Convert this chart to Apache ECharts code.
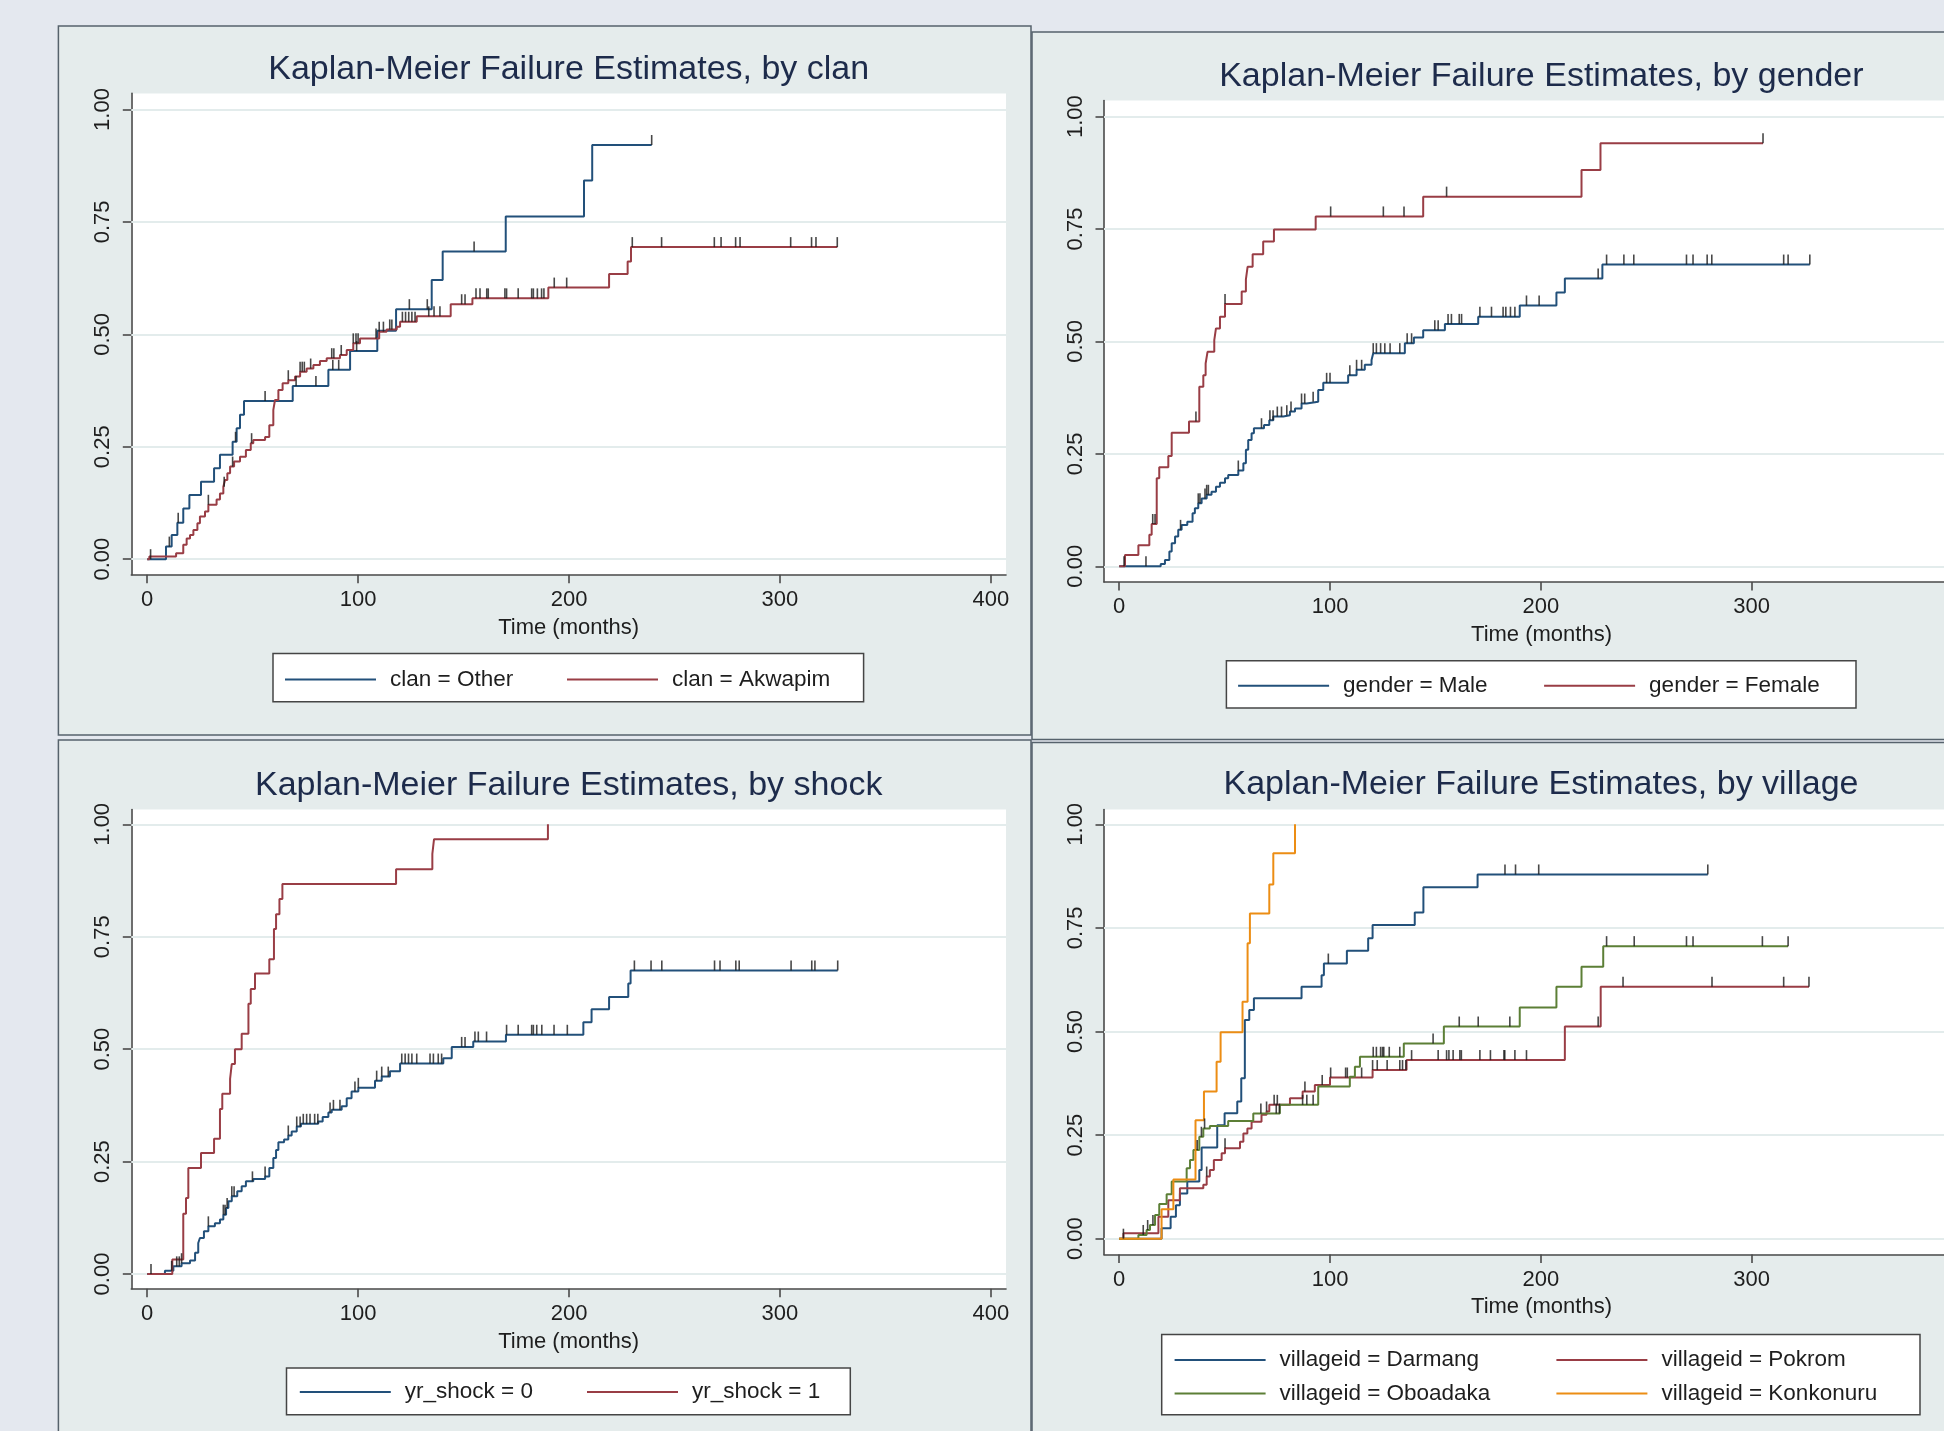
<!DOCTYPE html>
<html>
<head>
<meta charset="utf-8">
<title>Kaplan-Meier Failure Estimates</title>
<script src="https://cdn.jsdelivr.net/npm/echarts@6/dist/echarts.min.js"></script>
<style>
  html, body { margin: 0; padding: 0; background: #e4e8ef; }
  #chart { width: 1944px; height: 1431px; }
</style>
</head>
<body>
<div id="chart"></div>
<script>
// step points are [time in months, failure probability]; censor arrays are times only
const xTicks = [0, 100, 200, 300, 400];
const yTicks = [0, 0.25, 0.5, 0.75, 1];

// --- by clan
const clanOther = [[0,0],[8.9,0.028],[11.6,0.054],[14.3,0.081],[17.1,0.113],[20,0.143],[25.5,0.172],[31.7,0.202],[34.5,0.232],[40.5,0.261],[42.4,0.291],[44,0.321],[45.9,0.352],[69,0.385],[85.9,0.421],[96.2,0.463],[109.1,0.508],[118,0.556],[134.9,0.621],[140.1,0.684],[170,0.762],[207.1,0.842],[211,0.921],[239.2,0.921]];
const clanOtherCensor = [1.6, 10.5, 14.7, 41.9, 55.9, 70.6, 80, 88, 90.8, 99.3, 124.3, 132.8, 155, 239.2];
const clanAkwapim = [[0,0],[1,0.006],[13.7,0.013],[17.1,0.032],[18.7,0.046],[20.3,0.054],[21.9,0.065],[23.8,0.08],[25,0.095],[27.4,0.106],[29,0.121],[32.9,0.133],[34.5,0.146],[36.1,0.161],[36.9,0.176],[38,0.191],[39.3,0.206],[41.2,0.217],[44,0.228],[46.8,0.243],[49.1,0.258],[50.3,0.265],[55.9,0.272],[57.9,0.298],[59.8,0.332],[60.6,0.354],[62.2,0.376],[64.2,0.391],[66.9,0.398],[70.1,0.406],[72.5,0.417],[75.6,0.424],[78.8,0.432],[81.9,0.441],[85.1,0.447],[91.4,0.454],[94.6,0.465],[97.7,0.48],[100.9,0.491],[110,0.506],[113.5,0.511],[118.3,0.517],[119.9,0.528],[127.8,0.54],[143.9,0.567],[154.2,0.58],[190.2,0.604],[219,0.634],[227.8,0.662],[229.4,0.694],[327.2,0.694]];
const clanAkwapimCensor = [29, 36.5, 40.5, 49.5, 66.9, 72.5, 73.5, 74.5, 77.5, 87.5, 88.5, 92, 97.7, 99, 100, 108.5, 110, 112, 115, 116, 121, 122.5, 124, 125.5, 127, 133.5, 136, 138.8, 149.1, 150.7, 155.9, 157.8, 161, 161.7, 169.6, 170.4, 175.9, 182.3, 183.1, 185, 187, 188.1, 193, 198.9, 230, 243.9, 268.9, 272.1, 279, 281.1, 305.1, 315, 317.1, 327.2];

// --- by gender
const genderMale = [[0,0],[19.7,0.005],[21.7,0.014],[23.8,0.033],[24.9,0.051],[26.5,0.066],[28,0.081],[29.6,0.092],[32.3,0.099],[34.8,0.118],[35.9,0.129],[37.5,0.14],[39.1,0.151],[41.5,0.159],[43.8,0.166],[45.9,0.177],[47.8,0.186],[50.2,0.196],[51.7,0.203],[56.5,0.213],[58.9,0.229],[60.1,0.259],[61.2,0.281],[62.8,0.296],[63.9,0.307],[68.7,0.314],[71.2,0.325],[73.1,0.333],[77.8,0.336],[81,0.344],[83.4,0.351],[86.5,0.362],[88.9,0.366],[94.4,0.392],[96.8,0.408],[108.6,0.425],[112.6,0.437],[116.5,0.448],[119.7,0.459],[120.5,0.474],[135.5,0.496],[139.8,0.509],[144.2,0.525],[154.5,0.539],[170.3,0.555],[190,0.58],[207.4,0.609],[211.4,0.64],[229.2,0.671],[327.6,0.671]];
const genderMaleCensor = [12.7, 29.1, 37.5, 38.3, 40.7, 41.5, 42.3, 56.5, 67.5, 71.5, 73, 75, 77, 79.5, 81.5, 86.5, 88, 92, 98.4, 100, 109.4, 112.6, 115, 120.5, 122, 124, 126, 128.5, 133.1, 136.6, 138.7, 149.7, 151.3, 156, 157.6, 161.3, 162.4, 171.1, 176.6, 182.1, 183.4, 185.6, 187.7, 193.2, 199.2, 227.2, 231.2, 239.4, 244.1, 269.1, 272.2, 278.9, 281.1, 315.2, 317.3, 327.6];
const genderFemale = [[0,0],[2.75,0.025],[9.1,0.047],[14.3,0.07],[15.4,0.094],[17.8,0.196],[19,0.22],[23.3,0.245],[24.9,0.297],[33.1,0.322],[38,0.399],[39.9,0.425],[41,0.451],[41.9,0.477],[45.1,0.503],[45.9,0.529],[47.8,0.555],[50.2,0.583],[58.1,0.611],[60.1,0.638],[60.9,0.666],[63.3,0.694],[68.3,0.722],[73.4,0.749],[93.2,0.778],[144.2,0.822],[219.3,0.881],[228.3,0.941],[305.4,0.941]];
const genderFemaleCensor = [2.3, 15.9, 17, 36.4, 50.2, 100.3, 125.3, 135.1, 155.3, 305.4];

// --- by shock
const shock0 = [[0,0],[8.4,0.007],[12.4,0.017],[16.3,0.024],[20.3,0.03],[22.7,0.047],[24.2,0.069],[25,0.08],[26.9,0.095],[29,0.106],[32.1,0.113],[34.5,0.121],[36.1,0.132],[37.4,0.147],[38.5,0.162],[40.1,0.173],[42.7,0.184],[44.8,0.195],[46.8,0.206],[50.3,0.211],[55.9,0.217],[57.9,0.236],[59.8,0.258],[61.1,0.276],[62.2,0.293],[64.9,0.299],[66.9,0.308],[68.5,0.317],[70.9,0.328],[72.9,0.334],[81.1,0.339],[83.2,0.349],[85.9,0.359],[87.5,0.365],[92.2,0.373],[94.6,0.391],[96.9,0.406],[100.1,0.414],[108,0.43],[111.2,0.439],[115.1,0.451],[119.9,0.468],[140.4,0.48],[144.4,0.505],[154.6,0.517],[170.1,0.532],[206.8,0.56],[210.7,0.589],[219,0.616],[228.1,0.646],[229.2,0.675],[327.4,0.675]];
const shock0Censor = [1.8, 11.6, 14, 15.2, 16.3, 29, 36.1, 36.9, 37.9, 40.1, 41.2, 49.9, 55.9, 66.9, 70.9, 72.5, 74, 75.6, 77.2, 79.4, 80.9, 86.7, 88.3, 91.4, 98.5, 100.1, 108.8, 111.2, 114.3, 120.7, 122.3, 123.9, 125.5, 127.8, 134.1, 135.7, 138, 139.6, 149.1, 150.7, 155.4, 157, 160.9, 170.4, 175.9, 182.3, 183.1, 184.7, 187.1, 192.9, 199.2, 231, 238.9, 244, 269, 271.6, 279.1, 280.7, 305.3, 315.1, 316.6, 327.4];
const shock1 = [[0,0],[11.9,0.032],[17.1,0.134],[18.4,0.169],[19.5,0.236],[25.5,0.269],[31.7,0.301],[34.5,0.367],[35.6,0.401],[39.3,0.434],[40.1,0.467],[41.6,0.5],[44.8,0.534],[48,0.601],[49.1,0.634],[51.1,0.668],[57.9,0.7],[60.1,0.767],[61.1,0.8],[62.7,0.834],[64.1,0.867],[118,0.9],[135.2,0.934],[136,0.967],[190,1]];
const shock1Censor = [];

// --- by village
const villDarmang = [[0,0],[20.1,0.025],[24.4,0.053],[26.9,0.081],[28.8,0.109],[32.3,0.138],[38,0.166],[39.1,0.22],[46.5,0.274],[50,0.303],[56,0.331],[57.9,0.387],[59.6,0.528],[61.7,0.552],[63.9,0.58],[86.5,0.608],[96,0.636],[97.1,0.664],[108,0.695],[118.1,0.725],[120.2,0.757],[140.2,0.787],[144.3,0.848],[170,0.879],[279.2,0.879]];
const villDarmangCensor = [2, 99.2, 183, 188, 199, 279.2];
const villPokrom = [[0,0],[2,0.013],[18.6,0.053],[23.3,0.093],[28.8,0.122],[39.9,0.13],[41.5,0.15],[43,0.166],[44.9,0.19],[48.6,0.206],[50.2,0.218],[57.3,0.234],[58.9,0.254],[60.8,0.266],[62.8,0.282],[67.5,0.299],[69.9,0.307],[71.2,0.323],[81,0.339],[87,0.355],[92.8,0.371],[100,0.389],[120.2,0.407],[136.3,0.431],[211.4,0.512],[228.4,0.608],[327.2,0.608]];
const villPokromCensor = [41.5, 50.2, 69.9, 73.5, 75, 88.1, 96.3, 100.3, 107.4, 108.2, 115, 120.2, 122.4, 127.1, 133.1, 134.4, 136, 138.7, 151.3, 155.3, 156.4, 158.4, 161.6, 162.3, 171.1, 176.1, 182.5, 182.9, 187.7, 193.2, 227.2, 239, 281.2, 315.2, 327.2];
const villOboadaka = [[0,0],[9.1,0.009],[13,0.021],[14.6,0.033],[17,0.057],[19,0.084],[22.5,0.107],[24.9,0.138],[32,0.17],[33.6,0.19],[35.2,0.214],[38,0.246],[39.9,0.266],[43,0.272],[51.7,0.284],[63.6,0.302],[76.2,0.323],[94.4,0.367],[109.4,0.391],[111.8,0.415],[114.2,0.439],[135,0.471],[154,0.512],[190,0.558],[207.4,0.608],[219.3,0.656],[229.6,0.706],[317.3,0.706]];
const villOboadakaCensor = [11.4, 13.5, 16, 37, 39, 40.5, 67.2, 74.5, 76, 87, 89, 92, 120.5, 122, 124, 124.9, 125.5, 128.1, 133.1, 148.9, 161.3, 170.3, 185.3, 231.2, 244.3, 269.1, 272.2, 305.1, 317.3];
const villKonkonuru = [[0,0],[20.1,0.071],[25.7,0.143],[36.2,0.286],[40.2,0.355],[46.2,0.427],[48.1,0.498],[58.5,0.572],[60.9,0.713],[62,0.785],[71.2,0.855],[73.1,0.93],[83.4,1]];
const villKonkonuruCensor = [];

const NAVY = '#22507a', MAROON = '#993d45', GREEN = '#5c7f36', ORANGE = '#ec8d14';
const FONT = "'Liberation Sans', Arial, Helvetica, sans-serif";
const TEXT = '#1e1e1e', TITLE = '#1d2b4b', AXIS = '#4a4a4a', GRIDC = '#e3ecec', CENSOR = '#1a1a1a';

const panels = [
  { title: 'Kaplan-Meier Failure Estimates, by clan', curves: [
    { name: 'clan = Other', steps: clanOther, censor: clanOtherCensor, color: NAVY },
    { name: 'clan = Akwapim', steps: clanAkwapim, censor: clanAkwapimCensor, color: MAROON }] },
  { title: 'Kaplan-Meier Failure Estimates, by gender', curves: [
    { name: 'gender = Male', steps: genderMale, censor: genderMaleCensor, color: NAVY },
    { name: 'gender = Female', steps: genderFemale, censor: genderFemaleCensor, color: MAROON }] },
  { title: 'Kaplan-Meier Failure Estimates, by shock', curves: [
    { name: 'yr_shock = 0', steps: shock0, censor: shock0Censor, color: NAVY },
    { name: 'yr_shock = 1', steps: shock1, censor: shock1Censor, color: MAROON }] },
  { title: 'Kaplan-Meier Failure Estimates, by village', curves: [
    { name: 'villageid = Darmang', steps: villDarmang, censor: villDarmangCensor, color: NAVY },
    { name: 'villageid = Pokrom', steps: villPokrom, censor: villPokromCensor, color: MAROON },
    { name: 'villageid = Oboadaka', steps: villOboadaka, censor: villOboadakaCensor, color: GREEN },
    { name: 'villageid = Konkonuru', steps: villKonkonuru, censor: villKonkonuruCensor, color: ORANGE }] }
];

// page geometry of each panel (pixels); the right-hand plots run off the page edge,
// so their grids stop at the canvas edge and the axis title is nudged to the full-plot centre
const layout = [
  { frame: [58.4, 26, 972.6, 709], grid: [131.3, 93.4, 874.7, 481.4], x: [-7.54, 407.2], y: [-0.0347, 1.0358],
    nameShift: 0, titleAt: [568.7, 69.4], box: [273, 653.6, 590.6, 48.1], items: [[285, 679], [567, 679]] },
  { frame: [1032, 32, 950, 707.5], grid: [1104, 100.5, 840, 481.4], x: [-7.21, 391.25], y: [-0.0347, 1.0358],
    nameShift: 35, titleAt: [1541.4, 76.9], box: [1226.4, 660.7, 629.6, 47.3], items: [[1238.1, 685.2], [1544.1, 685.2]] },
  { frame: [58.4, 740, 972.6, 720], grid: [131.3, 809.6, 874.7, 479.2], x: [-7.54, 407.2], y: [-0.0329, 1.0327],
    nameShift: 0, titleAt: [568.7, 785.9], box: [286.5, 1368, 563.8, 46.8], items: [[299.8, 1391.6], [587, 1391.6]] },
  { frame: [1032, 742.5, 950, 720], grid: [1104, 809.6, 840, 444.8], x: [-7.21, 391.25], y: [-0.0379, 1.0355],
    nameShift: 35, titleAt: [1541, 784.8], box: [1161.7, 1334.4, 758.3, 80.4],
    items: [[1174.6, 1359.4], [1556.4, 1359.4], [1174.6, 1393], [1556.4, 1393]] }
];

function valueAt(steps, t) {
  let v = steps[0][1];
  for (let i = 0; i < steps.length; i++) {
    if (steps[i][0] <= t) v = steps[i][1]; else break;
  }
  return v;
}

const series = [];
const legends = [];
panels.forEach((p, i) => {
  // horizontal grid lines under the curves
  series.push({
    type: 'line', xAxisIndex: i, yAxisIndex: i, data: [[0, 0]], symbol: 'none',
    lineStyle: { opacity: 0 }, silent: true, z: 1,
    markLine: {
      z: 1, silent: true, symbol: ['none', 'none'], label: { show: false },
      lineStyle: { color: GRIDC, width: 2, type: 'solid' },
      data: yTicks.map(v => ({ yAxis: v }))
    }
  });
  p.curves.forEach((c, k) => {
    series.push({
      name: c.name, type: 'line', step: 'end', xAxisIndex: i, yAxisIndex: i,
      data: c.steps, symbol: 'none', z: 3,
      lineStyle: { color: c.color, width: 2 }, itemStyle: { color: c.color }
    });
    series.push({
      type: 'scatter', xAxisIndex: i, yAxisIndex: i, silent: true, z: 4,
      data: c.censor.map(t => [t, valueAt(c.steps, t)]),
      symbol: 'rect', symbolSize: [1.6, 10], symbolOffset: [0, -5],
      itemStyle: { color: CENSOR }
    });
    const at = layout[i].items[k];
    legends.push({
      data: [c.name], left: at[0], top: at[1] - 11, padding: 0, selectedMode: false,
      icon: 'rect', itemWidth: 91, itemHeight: 2,
      textStyle: { fontSize: 22.5, color: TEXT, fontFamily: FONT, padding: [0, 0, 0, 9] }
    });
  });
});

const graphic = [];
layout.forEach(L => {
  graphic.push({ type: 'rect', z: -10, shape: { x: L.frame[0], y: L.frame[1], width: L.frame[2], height: L.frame[3] },
    style: { fill: '#e5ecec', stroke: '#56626c', lineWidth: 1.5 } });
  graphic.push({ type: 'rect', z: -5, shape: { x: L.box[0], y: L.box[1], width: L.box[2], height: L.box[3] },
    style: { fill: '#ffffff', stroke: '#454545', lineWidth: 1.5 } });
});

const chart = echarts.init(document.getElementById('chart'));
chart.setOption({
  backgroundColor: '#e4e8ef',
  animation: false,
  textStyle: { fontFamily: FONT },
  graphic: graphic,
  title: panels.map((p, i) => ({
    text: p.title, left: layout[i].titleAt[0], top: layout[i].titleAt[1],
    textAlign: 'center', textVerticalAlign: 'middle', padding: 0,
    textStyle: { fontSize: 34, fontWeight: 'normal', color: TITLE, fontFamily: FONT }
  })),
  legend: legends,
  grid: layout.map(L => ({
    left: L.grid[0], top: L.grid[1], width: L.grid[2], height: L.grid[3],
    show: true, backgroundColor: '#ffffff', borderWidth: 0
  })),
  xAxis: layout.map((L, i) => ({
    gridIndex: i, type: 'value', min: L.x[0], max: L.x[1],
    name: 'Time (months)', nameLocation: 'middle', nameGap: 42,
    nameTextStyle: { fontSize: 22, color: TEXT, fontFamily: FONT, padding: [0, 0, 0, L.nameShift] },
    axisLine: { show: true, onZero: false, lineStyle: { color: AXIS, width: 1.6 } },
    axisTick: { show: true, length: 8.5, customValues: xTicks, lineStyle: { color: AXIS, width: 1.6 } },
    axisLabel: { customValues: xTicks, margin: 14.5, fontSize: 22, color: TEXT, fontFamily: FONT },
    splitLine: { show: false }
  })),
  yAxis: layout.map((L, i) => ({
    gridIndex: i, type: 'value', min: L.y[0], max: L.y[1],
    axisLine: { show: true, onZero: false, lineStyle: { color: AXIS, width: 1.6 } },
    axisTick: { show: true, length: 8.5, customValues: yTicks, lineStyle: { color: AXIS, width: 1.6 } },
    axisLabel: { customValues: yTicks, rotate: 90, margin: 17.5, fontSize: 22, color: TEXT, fontFamily: FONT,
      formatter: v => v.toFixed(2) },
    splitLine: { show: false }
  })),
  series: series
});
</script>
</body>
</html>
